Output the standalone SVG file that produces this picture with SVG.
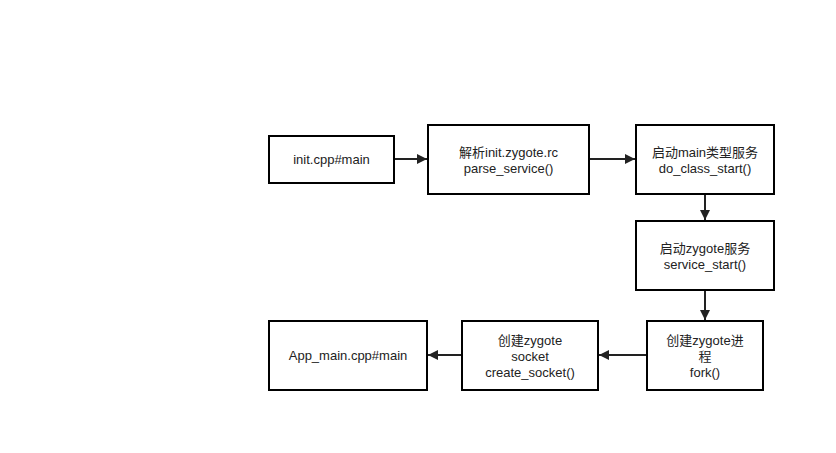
<svg xmlns="http://www.w3.org/2000/svg" width="836" height="453" viewBox="0 0 836 453">
<defs>
<style>
.box{fill:#fff;stroke:#000;stroke-width:2}
.t{font-family:"Liberation Sans","Noto Sans CJK SC",sans-serif;font-size:13px;fill:#222;text-anchor:middle}
.c{stroke:#222;stroke-width:2;fill:none}
</style>
<marker id="ah" viewBox="0 0 10 10" refX="10" refY="5" markerWidth="5.5" markerHeight="5" orient="auto" markerUnits="strokeWidth">
<path d="M0,0 L10,5 L0,10 Z" fill="#222"/>
</marker>
</defs>
<rect width="836" height="453" fill="#fff"/>
<g id="connectors">
<line class="c" x1="394" y1="159" x2="427" y2="159" marker-end="url(#ah)"/>
<line class="c" x1="589" y1="159" x2="635" y2="159" marker-end="url(#ah)"/>
<line class="c" x1="705" y1="194" x2="705" y2="220" marker-end="url(#ah)"/>
<line class="c" x1="705" y1="290" x2="705" y2="320" marker-end="url(#ah)"/>
<line class="c" x1="647" y1="355" x2="599" y2="355" marker-end="url(#ah)"/>
<line class="c" x1="462" y1="355" x2="428" y2="355" marker-end="url(#ah)"/>
</g>
<g id="n1"><rect class="box" x="269" y="136" width="125" height="47"/><text class="t" x="331.5" y="164">init.cpp#main</text></g>
<g id="n2"><rect class="box" x="428" y="125" width="161" height="69"/><text class="t" x="508.5" y="157">解析init.zygote.rc</text><text class="t" x="508.5" y="173">parse_service()</text></g>
<g id="n3"><rect class="box" x="636" y="125" width="138" height="69"/><text class="t" x="705" y="157">启动main类型服务</text><text class="t" x="705" y="173">do_class_start()</text></g>
<g id="n4"><rect class="box" x="636" y="221" width="138" height="69"/><text class="t" x="705" y="253">启动zygote服务</text><text class="t" x="705" y="269">service_start()</text></g>
<g id="n5"><rect class="box" x="647" y="321" width="116" height="69"/><text class="t" x="705" y="345">创建zygote进</text><text class="t" x="705" y="361">程</text><text class="t" x="705" y="377">fork()</text></g>
<g id="n6"><rect class="box" x="462" y="321" width="136" height="69"/><text class="t" x="530" y="345">创建zygote</text><text class="t" x="530" y="361">socket</text><text class="t" x="530" y="377">create_socket()</text></g>
<g id="n7"><rect class="box" x="269" y="321" width="158" height="69"/><text class="t" x="348" y="360">App_main.cpp#main</text></g>
</svg>
